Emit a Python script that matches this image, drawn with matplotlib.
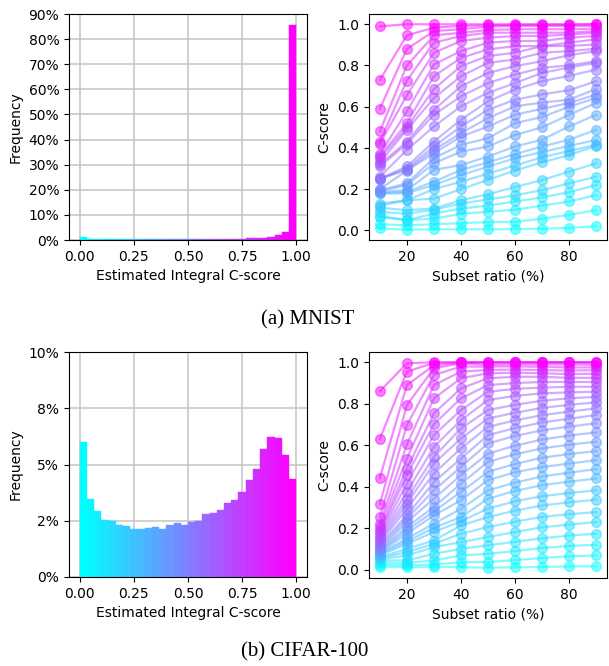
import numpy as np
import matplotlib
matplotlib.use("Agg")
import matplotlib.pyplot as plt
from matplotlib.ticker import PercentFormatter, MultipleLocator

# ---------------- data ----------------
# Histogram frequencies (30 bins over [0, 1])
mnist_freq = [0.010, 0.005, 0.003, 0.002, 0.002, 0.002, 0.002, 0.002, 0.002, 0.002,
              0.002, 0.002, 0.002, 0.002, 0.002, 0.002, 0.002, 0.002, 0.003, 0.003,
              0.004, 0.004, 0.005, 0.006, 0.008, 0.009, 0.0135, 0.020, 0.030, 0.855]
cifar_freq = [0.0600, 0.0345, 0.0293, 0.0255, 0.0249, 0.0231, 0.0225, 0.0212, 0.0215, 0.0216,
              0.0224, 0.0212, 0.0230, 0.0240, 0.0230, 0.0243, 0.0249, 0.0279, 0.0284, 0.0298,
              0.0329, 0.0342, 0.0379, 0.0433, 0.0480, 0.0569, 0.0622, 0.0616, 0.0541, 0.0437]

ratios = [10, 20, 30, 40, 50, 60, 70, 80, 90]

# C-score per subset ratio; each list ordered from top (magenta) line to bottom (cyan) line
mnist_r10 = [.99, .73, .59, .48, .43, .42, .37, .36, .35, .33, .32, .31, .26, .25, .25, .25, .20, .195, .19, .187, .18, .179, .13, .12, .11, .09, .07, .065, .03, .01]
mnist_r20 = [1.0, .946, .88, .80, .727, .655, .577, .52, .50, .488, .43, .42, .39, .31, .30, .293, .29, .228, .22, .195, .187, .18, .146, .146, .098, .081, .05, .049, .024, .003]
mnist_r30 = [1.0, .984, .967, .946, .911, .862, .805, .748, .686, .642, .585, .561, .504, .431, .407, .39, .374, .35, .325, .293, .236, .22, .20, .154, .106, .10, .081, .057, .03, .005]
mnist_r40 = [1.0, .992, .976, .959, .943, .919, .870, .837, .797, .748, .699, .650, .602, .537, .504, .472, .455, .415, .382, .317, .293, .268, .236, .20, .146, .13, .106, .08, .035, .005]
mnist_r50 = [1.0, .995, .989, .972, .959, .935, .911, .878, .846, .813, .764, .715, .667, .626, .585, .545, .504, .447, .407, .358, .33, .309, .275, .245, .175, .15, .12, .09, .04, .005]
mnist_r60 = [1.0, .997, .992, .976, .959, .943, .919, .894, .862, .829, .797, .756, .715, .683, .634, .602, .561, .520, .463, .407, .37, .35, .315, .29, .21, .17, .14, .10, .041, .006]
mnist_r70 = [1.0, .998, .992, .976, .959, .943, .919, .894, .894, .862, .821, .789, .764, .724, .66, .62, .59, .55, .50, .44, .407, .38, .355, .33, .244, .195, .16, .12, .057, .008]
mnist_r80 = [1.0, .998, .992, .976, .959, .95, .935, .911, .895, .870, .85, .80, .790, .75, .680, .634, .618, .60, .561, .504, .44, .41, .385, .365, .285, .228, .185, .14, .075, .012]
mnist_r90 = [1.0, 1.0, .992, .979, .967, .959, .943, .927, .902, .881, .870, .821, .813, .780, .724, .686, .659, .642, .618, .561, .488, .439, .415, .41, .325, .260, .220, .171, .098, .020]

cifar_r10 = [.86, .63, .443, .316, .254, .222, .206, .19, .18, .17, .16, .15, .14, .13, .12, .11, .10, .095, .09, .085, .08, .075, .07, .06, .055, .05, .045, .035, .025, .015]
cifar_r20 = [.995, .955, .890, .794, .697, .604, .536, .488, .456, .415, .375, .343, .318, .294, .262, .246, .230, .206, .19, .174, .150, .137, .125, .101, .085, .069, .045, .033, .021, .012]
cifar_r30 = [1.0, .997, .985, .971, .939, .89, .826, .754, .702, .649, .593, .545, .512, .464, .423, .383, .343, .303, .282, .262, .222, .202, .182, .141, .125, .109, .077, .045, .025, .013]
cifar_r40 = [1.0, 1.0, .999, .995, .979, .955, .923, .874, .826, .770, .721, .681, .633, .585, .536, .496, .456, .415, .375, .335, .294, .254, .234, .214, .174, .133, .101, .069, .037, .013]
cifar_r50 = [1.0, 1.0, .998, .987, .979, .963, .947, .923, .890, .858, .818, .770, .729, .689, .649, .609, .560, .520, .472, .432, .383, .343, .295, .254, .206, .158, .118, .077, .037, .010]
cifar_r60 = [1.0, 1.0, .999, .99, .98, .965, .95, .93, .90, .872, .838, .795, .757, .72, .683, .645, .598, .557, .51, .47, .42, .38, .33, .285, .232, .182, .135, .09, .047, .012]
cifar_r70 = [1.0, 1.0, .999, .99, .978, .962, .947, .93, .905, .878, .85, .815, .78, .745, .71, .672, .628, .585, .54, .495, .45, .408, .355, .31, .255, .205, .152, .105, .057, .014]
cifar_r80 = [1.0, 1.0, .999, .989, .975, .96, .943, .925, .905, .882, .855, .826, .795, .762, .728, .69, .647, .603, .558, .512, .468, .425, .37, .325, .268, .218, .165, .115, .065, .016]
cifar_r90 = [1.0, 1.0, .998, .987, .975, .962, .945, .925, .905, .882, .858, .834, .807, .778, .746, .706, .662, .617, .572, .528, .485, .44, .383, .338, .278, .23, .174, .121, .069, .017]

mnist_cols = [mnist_r10, mnist_r20, mnist_r30, mnist_r40, mnist_r50, mnist_r60, mnist_r70, mnist_r80, mnist_r90]
cifar_cols = [cifar_r10, cifar_r20, cifar_r30, cifar_r40, cifar_r50, cifar_r60, cifar_r70, cifar_r80, cifar_r90]

captions = ["(a) MNIST", "(b) CIFAR-100"]

# ---------------- plotting ----------------
fig = plt.figure(figsize=(6.09, 6.66), dpi=100)
cmap = plt.get_cmap("cool")

W, H = 609.0, 666.0
def rect(x0, y0, x1, y1):
    return [x0 / W, 1 - y1 / H, (x1 - x0) / W, (y1 - y0) / H]

ax_h1 = fig.add_axes(rect(69, 14, 307, 240))
ax_l1 = fig.add_axes(rect(369, 14, 607, 240))
ax_h2 = fig.add_axes(rect(69, 352, 307, 577))
ax_l2 = fig.add_axes(rect(369, 352, 607, 578))


def draw_hist(ax, freq, ymax, ystep):
    n = len(freq)
    edges = np.linspace(0, 1, n + 1)
    cols = [cmap(i / (n - 1)) for i in range(n)]
    ax.bar(edges[:-1], freq, width=1.0 / n, align="edge", color=cols,
           edgecolor=cols, linewidth=0.3)
    ax.set_axisbelow(True)
    ax.grid(True, color="#c4c4c4", linewidth=1.1)
    ax.set_xlim(-0.05, 1.05)
    ax.set_ylim(0, ymax)
    ax.xaxis.set_major_locator(MultipleLocator(0.25))
    ax.yaxis.set_major_locator(MultipleLocator(ystep))
    ax.xaxis.set_major_formatter(matplotlib.ticker.FormatStrFormatter("%.2f"))
    ax.yaxis.set_major_formatter(PercentFormatter(1.0, decimals=0))
    ax.set_xlabel("Estimated Integral C-score")
    ax.set_ylabel("Frequency")


def draw_lines(ax, cols):
    nl = len(cols[0])
    lines = [[c[i] for c in cols] for i in range(nl)]
    # draw bottom (cyan) first, top (magenta) last
    for i in range(nl - 1, -1, -1):
        color = cmap(1 - i / (nl - 1))
        ax.plot(ratios, lines[i], "-o", color=color, alpha=0.5,
                markersize=7, linewidth=1.6)
    ax.xaxis.set_major_locator(MultipleLocator(20))
    ax.set_yticks([0.0, 0.2, 0.4, 0.6, 0.8, 1.0])
    ax.set_xlabel("Subset ratio (%)")
    ax.set_ylabel("C-score")


draw_hist(ax_h1, mnist_freq, 0.9, 0.1)
draw_hist(ax_h2, cifar_freq, 0.1, 0.025)
draw_lines(ax_l1, mnist_cols)
draw_lines(ax_l2, cifar_cols)

fig.text(0.505, 1 - 320 / H, captions[0], ha="center", va="center",
         fontsize=15, family="Liberation Serif")
fig.text(0.5, 1 - 652 / H, captions[1], ha="center", va="center",
         fontsize=15, family="Liberation Serif")

fig.savefig("out.png", dpi=100)
